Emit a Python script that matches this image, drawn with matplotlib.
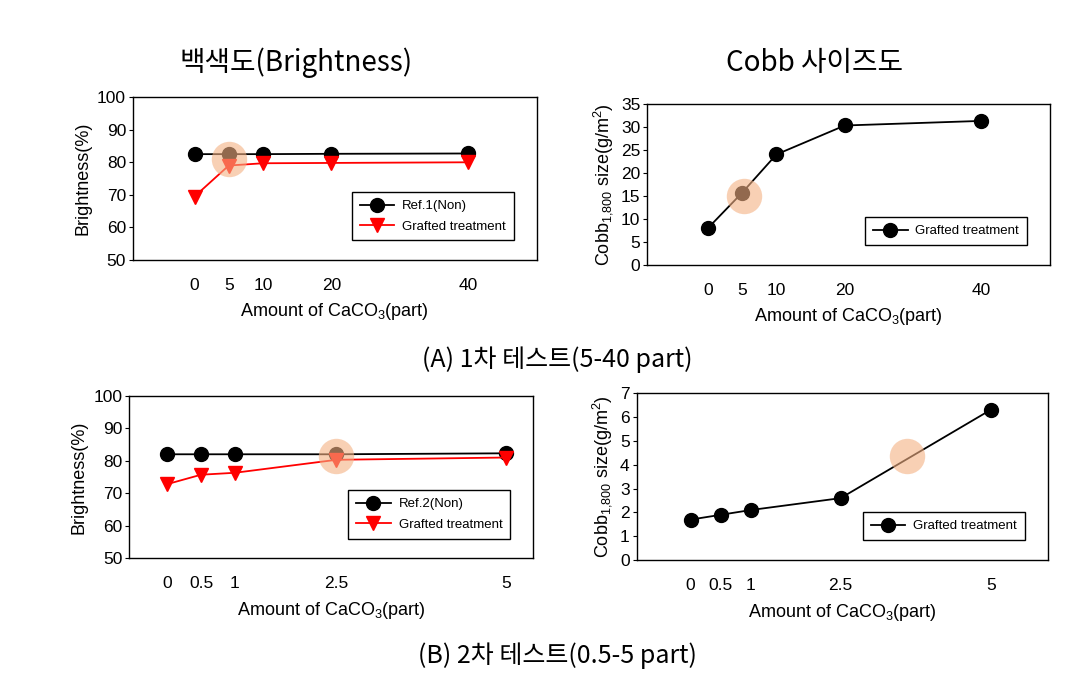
import matplotlib
matplotlib.use("Agg")
import matplotlib.pyplot as plt

plt.rcParams['font.family'] = ['Liberation Sans', 'DejaVu Sans']
plt.rcParams['mathtext.fontset'] = 'custom'
plt.rcParams['mathtext.rm'] = 'Liberation Sans'
plt.rcParams['mathtext.it'] = 'Liberation Sans'

# (A) 1st test, 5-40 part
xa = [0, 5, 10, 20, 40]
ref1 = [82.5, 82.5, 82.5, 82.6, 82.7]
graft_a = [69.5, 79.0, 79.7, 79.8, 80.0]
cobb_a = [8.0, 15.7, 24.0, 30.3, 31.3]

# (B) 2nd test, 0.5-5 part
xb = [0, 0.5, 1, 2.5, 5]
xb_labels = ['0', '0.5', '1', '2.5', '5']
ref2 = [82.0, 82.0, 82.0, 82.0, 82.3]
graft_b = [72.8, 75.7, 76.3, 80.3, 81.0]
cobb_b = [1.7, 1.9, 2.1, 2.6, 6.3]

# highlighted spots (x, y)
hl = [(5, 81.0), (5.3, 15.0), (2.5, 81.5), (3.6, 4.35)]

kr = ['Noto Sans CJK KR', 'DejaVu Sans']
xlab = 'Amount of CaCO$_3$(part)'
cobblab = 'Cobb$_{1{,}800}$ size(g/m$^2$)'

fig = plt.figure(figsize=(10.68, 6.79), dpi=100)
ax1 = fig.add_axes([0.1245, 0.617, 0.378, 0.240])
ax2 = fig.add_axes([0.606, 0.610, 0.377, 0.237])
ax3 = fig.add_axes([0.121, 0.178, 0.378, 0.239])
ax4 = fig.add_axes([0.596, 0.175, 0.385, 0.246])


def style(ax, xs, labels, xlim, ylim, yticks, ylabel):
    ax.set_xlim(*xlim)
    ax.set_ylim(*ylim)
    ax.set_xticks(xs)
    ax.set_xticklabels(labels)
    ax.set_yticks(yticks)
    ax.tick_params(axis='x', length=0, pad=13, labelsize=12.5)
    ax.tick_params(axis='y', length=3, direction='out', labelsize=12.5, pad=2)
    ax.set_xlabel(xlab, fontsize=13, labelpad=6)
    ax.set_ylabel(ylabel, fontsize=13, labelpad=4)
    for s in ax.spines.values():
        s.set_linewidth(1.0)


def legend(ax):
    lg = ax.legend(loc='lower right', bbox_to_anchor=(0.96, 0.08), fontsize=9.5,
                   fancybox=False, framealpha=1, edgecolor='black',
                   handlelength=2.6, handletextpad=0.6, borderpad=0.6, labelspacing=0.6)
    lg.get_frame().set_linewidth(1.0)


# A - brightness
ax1.plot(xa, ref1, 'k-', marker='o', ms=10, lw=1.3, label='Ref.1(Non)')
ax1.plot(xa, graft_a, color='red', marker='v', mfc='red', mec='red', ms=10, lw=1.3,
         label='Grafted treatment')
style(ax1, xa, [str(v) for v in xa], (-9, 50), (50, 100), range(50, 101, 10), 'Brightness(%)')
legend(ax1)

# A - cobb
ax2.plot(xa, cobb_a, 'k-', marker='o', ms=10, lw=1.3, label='Grafted treatment')
style(ax2, xa, [str(v) for v in xa], (-8.9, 50), (0, 35), range(0, 36, 5), cobblab)
legend(ax2)

# B - brightness
ax3.plot(xb, ref2, 'k-', marker='o', ms=10, lw=1.3, label='Ref.2(Non)')
ax3.plot(xb, graft_b, color='red', marker='v', mfc='red', mec='red', ms=10, lw=1.3,
         label='Grafted treatment')
style(ax3, xb, xb_labels, (-0.56, 5.4), (50, 100), range(50, 101, 10), 'Brightness(%)')
legend(ax3)

# B - cobb
ax4.plot(xb, cobb_b, 'k-', marker='o', ms=10, lw=1.3, label='Grafted treatment')
style(ax4, xb, xb_labels, (-0.9, 5.95), (0, 7), range(0, 8), cobblab)
legend(ax4)

for ax, (hx, hy) in zip([ax1, ax2, ax3, ax4], hl):
    ax.scatter([hx], [hy], s=650, color='#F4B183', alpha=0.6, lw=0, zorder=5)

fig.text(0.277, 0.907, '백색도(Brightness)', ha='center', va='center', fontsize=20, family=kr)
fig.text(0.763, 0.907, 'Cobb 사이즈도', ha='center', va='center', fontsize=20, family=kr)
fig.text(0.522, 0.470, '(A) 1차 테스트(5-40 part)', ha='center', va='center', fontsize=18, family=kr)
fig.text(0.522, 0.035, '(B) 2차 테스트(0.5-5 part)', ha='center', va='center', fontsize=18, family=kr)

fig.savefig('out.png', dpi=100)
